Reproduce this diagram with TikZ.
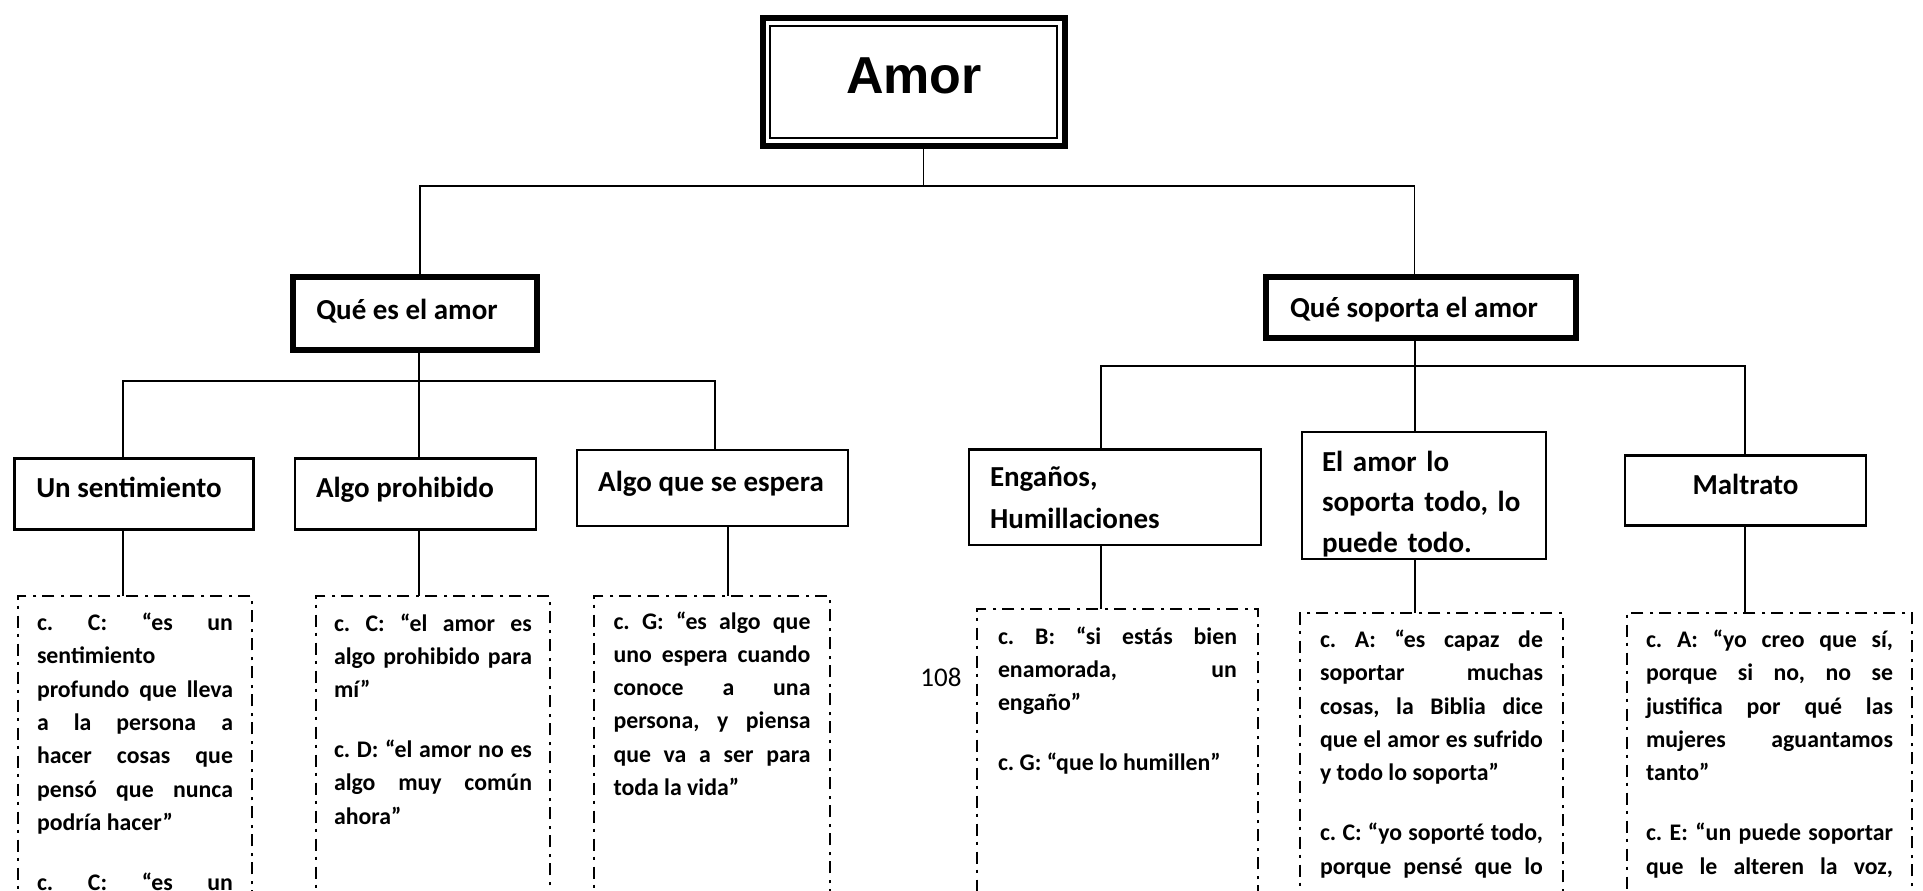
\documentclass[tikz,border=0pt]{standalone}
\usepackage{fontspec}
\setmainfont{Carlito}
\newfontfamily\amorfam{Liberation Sans}
\newcommand\lblfont{\fontsize{29}{42}\selectfont\bfseries}
\newcommand\qtfont{\fontsize{23.8}{33.3}\selectfont\bfseries}
\newcommand\qgap{\par\vspace{26.7pt}}
\newcommand\fullline[1]{\makebox[\linewidth][s]{#1}}
\tolerance=10000 \hbadness=10000 \hyphenpenalty=10000 \exhyphenpenalty=10000
\frenchspacing
\tikzset{
  conn/.style={draw, line width=1.6pt},
  boxone/.style={draw, line width=5.5pt, anchor=north west, inner sep=0pt, outer sep=0pt, font=\lblfont, text height=20pt},
  boxtwo/.style={draw, line width=2.6pt, anchor=north west, inner sep=0pt, outer sep=0pt, font=\lblfont, text height=20pt},
  boxmulti/.style={draw, line width=2.6pt, anchor=north west, inner ysep=0pt, outer sep=0pt, align=left},
  qbox/.style={draw, line width=2.4pt, dash pattern=on 12pt off 6pt on 3pt off 7pt, anchor=north west, outer sep=0pt, font=\qtfont},
}
\begin{document}
\begin{tikzpicture}[x=1pt,y=-1pt]
\path[use as bounding box] (0,0) rectangle (1923,891);
\clip (0,0) rectangle (1923,891);
\fill[white] (0,0) rectangle (1923,891);

% top node
\node[boxone, line width=6pt, minimum width=302pt, minimum height=128pt,
      font={\amorfam\fontsize{52}{60}\selectfont\bfseries}, text height=37pt, text depth=14pt]
      (amor) at (763,18) {Amor};
\draw[line width=1.5pt] ([shift={(7,8)}]amor.north west) rectangle ([shift={(-8,-8)}]amor.south east);

% level one
\node[boxone, minimum width=244pt, minimum height=73pt, text depth=8.4pt] (que1) at (293,277) {\hspace*{-16pt}Qué es el amor};
\node[boxone, minimum width=310pt, minimum height=61pt, text depth=0.4pt] (que2) at (1266,277) {\hspace*{-14pt}Qué soporta el amor};

% level two, left
\node[boxtwo, minimum width=239pt, minimum height=71pt, text depth=12.8pt] (sent) at (14.5,458.5) {\hspace*{-10pt}Un sentimiento};
\node[boxtwo, minimum width=241pt, minimum height=71pt, text depth=12.8pt] (proh) at (295,458.5) {\hspace*{-21pt}Algo prohibido};
\node[boxtwo, minimum width=271pt, minimum height=76pt, text depth=14pt] (espera) at (577,450) {\hspace*{-3pt}Algo que se espera};

% level two, right
\node[boxmulti, minimum width=292pt, minimum height=95.5pt, text width=250pt, inner xsep=21pt,
      font={\fontsize{29}{42}\selectfont\bfseries}] (eng) at (969,449.5) {Engaños,\\Humillaciones};
\node[boxmulti, minimum width=244pt, minimum height=127pt, text width=204pt, inner xsep=20pt,
      font={\fontsize{29}{40.5}\selectfont\bfseries}] (sop) at (1302,432) {\rule{0pt}{37pt}El amor lo\\soporta todo, lo\\puede todo.};
\node[boxtwo, minimum width=241pt, minimum height=70pt, text depth=12.4pt] (mal) at (1625,455.5) {Maltrato};

% quotation boxes
\node[qbox, inner xsep=19pt, inner ysep=11.2pt] (q1) at (18,596) {\parbox[t][330pt][t]{196pt}{\strut c. C: “es un\linebreak sentimiento\linebreak profundo que lleva\linebreak a la persona a\linebreak hacer cosas que\linebreak pensó que nunca\linebreak podría hacer”\qgap
\fullline{c. C: “es un}}};
\node[qbox, inner xsep=18pt, inner ysep=11.7pt] (q2) at (316,596) {\parbox[t][330pt][t]{198pt}{\strut c. C: “el amor es\linebreak algo prohibido para\linebreak mí”\qgap
c. D: “el amor no es\linebreak algo muy común\linebreak ahora”}};
\node[qbox, inner xsep=19.5pt, inner ysep=9.7pt] (q3) at (594,596) {\parbox[t][330pt][t]{197pt}{\strut c. G: “es algo que\linebreak uno espera cuando\linebreak conoce a una\linebreak persona, y piensa\linebreak que va a ser para\linebreak toda la vida”}};
\node[qbox, inner xsep=21pt, inner ysep=11.7pt] (q4) at (977,609) {\parbox[t][320pt][t]{239pt}{\strut c. B: “si estás bien\linebreak enamorada, un\linebreak engaño”\qgap
c. G: “que lo humillen”}};
\node[qbox, inner xsep=20pt, inner ysep=11.2pt] (q5) at (1300,613) {\parbox[t][320pt][t]{223pt}{\strut c. A: “es capaz de\linebreak soportar muchas\linebreak cosas, la Biblia dice\linebreak que el amor es sufrido\linebreak y todo lo soporta”\qgap
c. C: “yo soporté todo,\linebreak \fullline{porque pensé que lo}}};
\node[qbox, inner xsep=19pt, inner ysep=11.2pt] (q6) at (1627,613) {\parbox[t][320pt][t]{247pt}{\strut c. A: “yo creo que sí,\linebreak porque si no, no se\linebreak justifica por qué las\linebreak mujeres aguantamos\linebreak tanto”\qgap
c. E: “un puede soportar\linebreak \fullline{que le alteren la voz,}}};

% page number
\node[font={\fontsize{27}{30}\selectfont}, inner sep=0pt] (pg) at (941,677) {108};

% connectors
\coordinate (ja) at (923.5,186);
\coordinate (jl) at (420,186);
\coordinate (jr) at (1414.5,186);
\draw[conn] (amor.south -| ja) -- (ja);
\draw[conn] (que1.north -| jl) -- (jl) -- (jr) -- (que2.north -| jr);

\coordinate (la) at (123,381);
\coordinate (lb) at (419,381);
\coordinate (lc) at (715,381);
\coordinate (ld) at (728,381);
\draw[conn] (que1.south -| lb) -- (proh.north -| lb);
\draw[conn] (sent.north -| la) -- (la) -- (lc) -- (espera.north -| lc);
\draw[conn] (sent.south -| la) -- (q1.north -| la);
\draw[conn] (proh.south -| lb) -- (q2.north -| lb);
\draw[conn] (espera.south -| ld) -- (q3.north -| ld);

\coordinate (ra) at (1101,366);
\coordinate (rb) at (1415,366);
\coordinate (rc) at (1745,366);
\draw[conn] (que2.south -| rb) -- (sop.north -| rb);
\draw[conn] (eng.north -| ra) -- (ra) -- (rc) -- (mal.north -| rc);
\draw[conn] (eng.south -| ra) -- (q4.north -| ra);
\draw[conn] (sop.south -| rb) -- (q5.north -| rb);
\draw[conn] (mal.south -| rc) -- (q6.north -| rc);
\end{tikzpicture}
\end{document}
